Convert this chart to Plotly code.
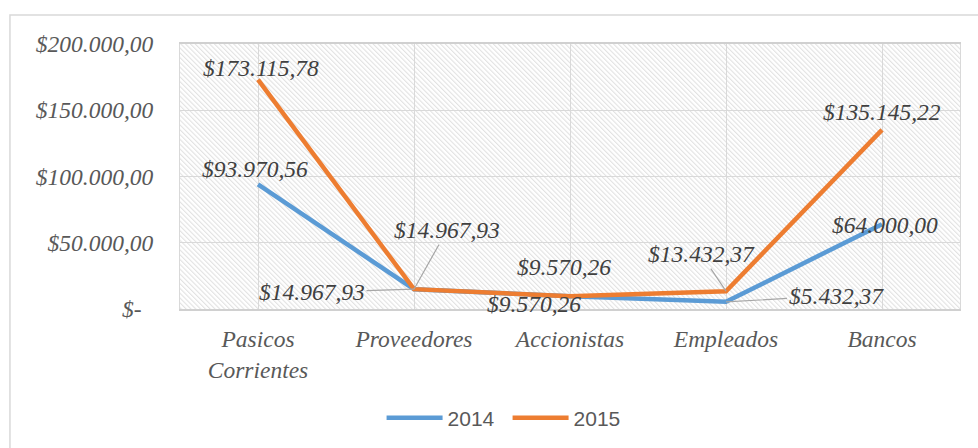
import base64
import plotly.graph_objects as go

categories = ["Pasicos<br>Corrientes", "Proveedores", "Accionistas", "Empleados", "Bancos"]
series_names = ["2014", "2015"]
values_2014 = [93970.56, 14967.93, 9570.26, 5432.37, 64000.00]
values_2015 = [173115.78, 14967.93, 9570.26, 13432.37, 135145.22]
y_tickvals = [0, 50000, 100000, 150000, 200000]
y_ticktext = ["$-\u00a0\u00a0", "$50.000,00", "$100.000,00", "$150.000,00", "$200.000,00"]

# label placement (style only): (mode, dx, dy) ; mode 'shift' -> xshift/yshift, 'arrow' -> ax/ay
label_style_2014 = [("shift", -3, 15), ("arrow", -102, 3), ("shift", -36, -8), ("arrow", 110, -6), ("shift", 3, -1)]
label_style_2015 = [("shift", 3, 12), ("arrow", 33, -59), ("shift", -6, 29), ("arrow", -25, -37), ("shift", 0, 18)]

BLUE = "#5B9BD5"
ORANGE = "#ED7D31"
SERIF = "Liberation Serif, Times New Roman, DejaVu Serif, serif"
TXT = "#595959"
LBL = "#404040"
FS = 23.5


def fmt(v):
    s = f"{v:,.2f}"
    s = s.replace(",", "X").replace(".", ",").replace("X", ".")
    return "$" + s


fig = go.Figure()
fig.add_trace(go.Scatter(x=categories, y=values_2014, mode="lines", name=series_names[0],
                         line=dict(color=BLUE, width=4.5)))
fig.add_trace(go.Scatter(x=categories, y=values_2015, mode="lines", name=series_names[1],
                         line=dict(color=ORANGE, width=4.5)))

annotations = []
for vals, styles in ((values_2014, label_style_2014), (values_2015, label_style_2015)):
    for c, v, (mode, dx, dy) in zip(categories, vals, styles):
        a = dict(x=c, y=v, xref="x", yref="y", text=fmt(v),
                 font=dict(family=SERIF, size=FS, color=LBL, style="italic"))
        if mode == "arrow":
            a.update(showarrow=True, ax=dx, ay=dy, arrowhead=0, arrowwidth=1.2,
                     arrowcolor="#a6a6a6", standoff=0)
        else:
            a.update(showarrow=False, xshift=dx, yshift=dy, xanchor="center", yanchor="middle")
        annotations.append(a)

# hatched background as an svg pattern image
svg = (
    '<svg xmlns="http://www.w3.org/2000/svg" width="780" height="265" viewBox="0 0 780 265" '
    'preserveAspectRatio="none">'
    '<defs><pattern id="h" patternUnits="userSpaceOnUse" width="3.4" height="3.4" '
    'patternTransform="rotate(-45)">'
    '<rect width="3.4" height="3.4" fill="#ffffff"/>'
    '<rect width="1.1" height="3.4" fill="#e2e2e2"/></pattern></defs>'
    '<rect width="780" height="265" fill="url(#h)"/></svg>'
)
src = "data:image/svg+xml;base64," + base64.b64encode(svg.encode()).decode()

n = len(categories)
shapes = []
for i in range(n - 1):
    shapes.append(dict(type="line", xref="x", yref="y domain", x0=i + 0.5, x1=i + 0.5, y0=0, y1=1,
                       line=dict(color="#d9d9d9", width=1), layer="below"))
# outer chart border
shapes.append(dict(type="rect", xref="paper", yref="paper", x0=-0.218, x1=1.05, y0=-0.6, y1=1.109,
                   line=dict(color="#d9d9d9", width=1.5), layer="below"))

fig.update_layout(
    width=978, height=448,
    margin=dict(l=180, r=18, t=44, b=139),
    paper_bgcolor="white",
    plot_bgcolor="rgba(0,0,0,0)",
    showlegend=True,
    legend=dict(orientation="h", xref="container", yref="container", x=0.519, y=0.067,
                xanchor="center", yanchor="middle", entrywidth=55,
                font=dict(family="Liberation Sans", size=21, color=TXT), itemwidth=56),
    annotations=annotations,
    shapes=shapes,
    images=[dict(source=src, xref="x domain", yref="y domain", x=0, y=1, sizex=1, sizey=1,
                 xanchor="left", yanchor="top", sizing="stretch", layer="below")],
    xaxis=dict(range=[-0.5, n - 0.5], showgrid=True, gridcolor="#d9d9d9", gridwidth=1,
               showline=True, linecolor="#d0d0d0", linewidth=1.5, mirror=True,
               ticks="", ticklabelstandoff=8,
               tickfont=dict(family=SERIF, size=FS, color=TXT, style="italic")),
    yaxis=dict(range=[0, 200000], tickvals=y_tickvals, ticktext=y_ticktext,
               showgrid=True, gridcolor="#d9d9d9", gridwidth=1, zeroline=False,
               showline=True, linecolor="#d9d9d9", linewidth=1, mirror=True,
               ticks="", ticklabelstandoff=21,
               tickfont=dict(family=SERIF, size=FS, color=TXT, style="italic")),
)

fig.write_html("out.html", post_script="document.body.style.margin='0';",
               config={"displayModeBar": False})
